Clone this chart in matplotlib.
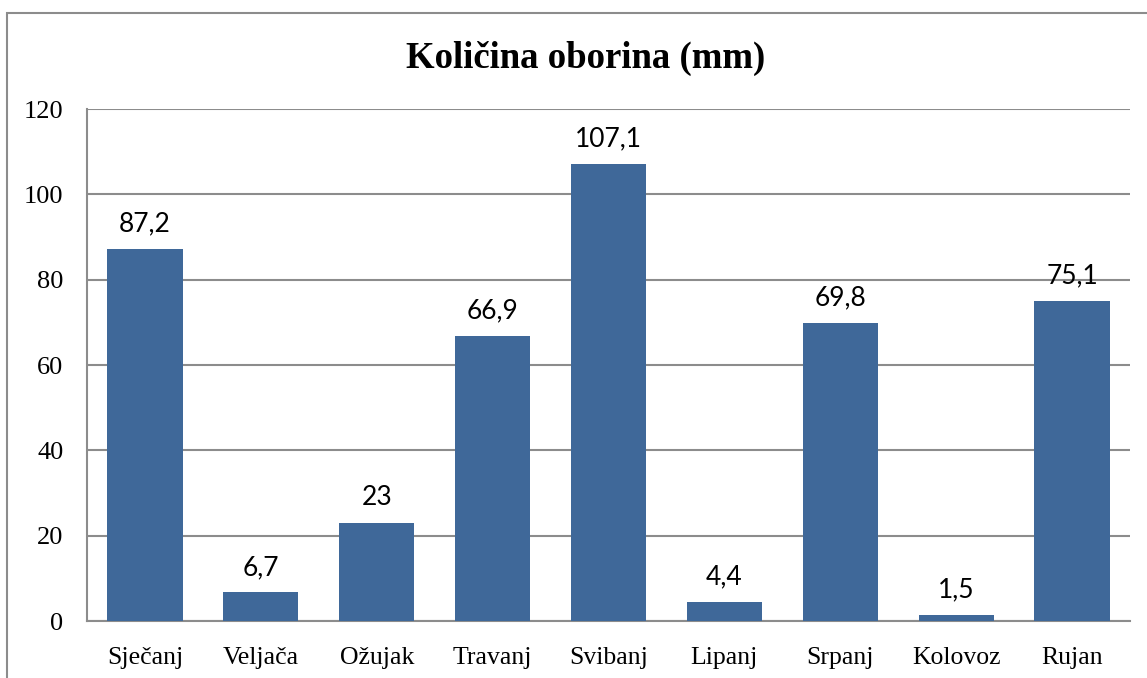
import matplotlib
matplotlib.use('Agg')
import matplotlib.pyplot as plt
from matplotlib.patches import Rectangle

# data
months = ['Sječanj', 'Veljača', 'Ožujak', 'Travanj', 'Svibanj',
          'Lipanj', 'Srpanj', 'Kolovoz', 'Rujan']
rain = [87.2, 6.7, 23, 66.9, 107.1, 4.4, 69.8, 1.5, 75.1]
yticks = [0, 20, 40, 60, 80, 100, 120]

fig = plt.figure(figsize=(11.47, 6.78), dpi=100)
ax = fig.add_axes([87/1147, 1 - 621/678, (1130 - 87)/1147, (621 - 109)/678])

# outer chart frame (cut off at right and bottom)
fig.patches.append(Rectangle((7/1147, -0.05), 1.1, 1 - 13/678 + 0.05,
                             transform=fig.transFigure, fill=False,
                             edgecolor='#8c8c8c', linewidth=1.5, zorder=0))

x = range(len(months))
bars = ax.bar(x, rain, width=0.65, color='#3f6899', zorder=3)

for i, v in enumerate(rain):
    txt = ('%g' % v).replace('.', ',')
    ax.annotate(txt, (i, v), xytext=(0, 9), textcoords='offset points',
                ha='center', va='bottom', fontsize=19, family='Lato',
                color='black')

ax.set_xlim(-0.5, len(months) - 0.5)
ax.set_ylim(0, 120)
ax.set_yticks(yticks)
ax.set_xticks(list(x))
ax.set_xticklabels(months, family='Liberation Serif', fontsize=18.5)
for lab in ax.get_yticklabels():
    lab.set_family('Liberation Serif')
    lab.set_fontsize(19)
ax.tick_params(axis='y', length=0, pad=17)
ax.tick_params(axis='x', length=0, pad=19)
ax.yaxis.grid(True, color='#8c8c8c', linewidth=1.5, zorder=0)
ax.set_axisbelow(True)

for s in ['top', 'right']:
    ax.spines[s].set_visible(False)
for s in ['left', 'bottom']:
    ax.spines[s].set_color('#8c8c8c')
    ax.spines[s].set_linewidth(1.5)

fig.text(586/1147, 1 - 58/678, 'Količina oborina (mm)', ha='center', va='center',
         family='Liberation Serif', fontweight='bold', fontsize=26.5)

fig.savefig('out.png', dpi=100)
